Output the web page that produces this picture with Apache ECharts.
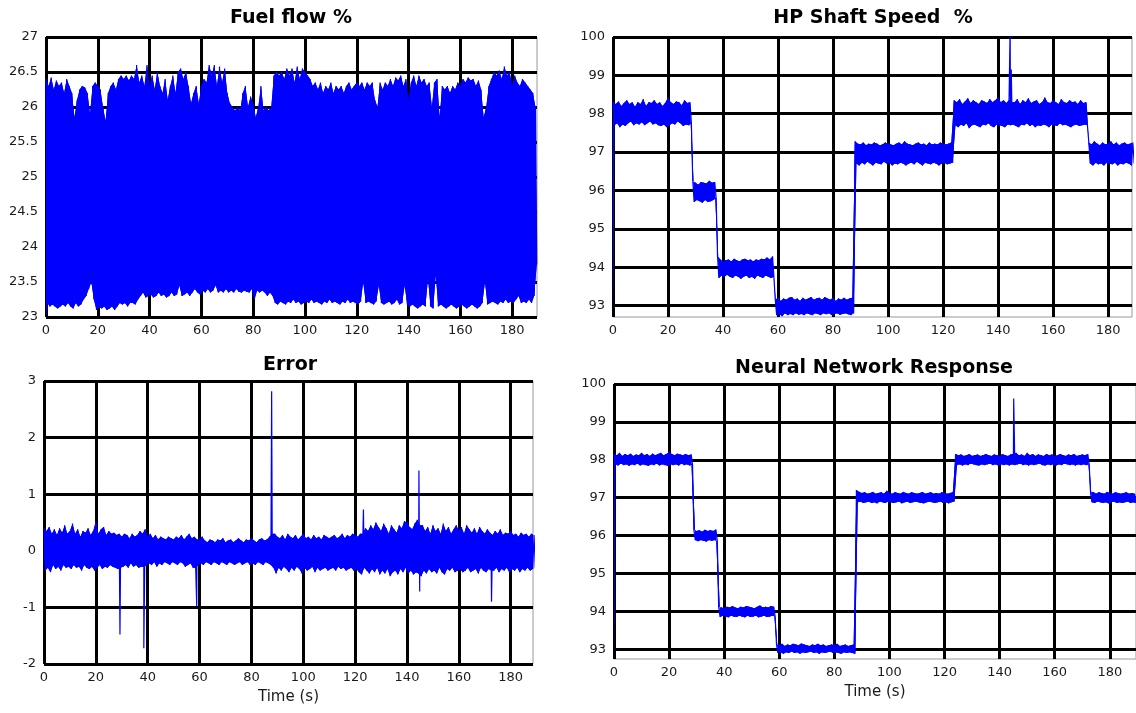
<!DOCTYPE html>
<html>
<head>
<meta charset="utf-8">
<script src="https://cdn.jsdelivr.net/npm/echarts@6/dist/echarts.min.js"></script>
<style>
html,body{margin:0;padding:0;background:#fff;}
#c{width:1136px;height:713px;}
</style>
</head>
<body>
<div id="c"></div>
<script>
// ---- Data (per-second max / min envelope of each noisy signal) ----
const titles = ['Fuel flow %', 'HP Shaft Speed  %', 'Error', 'Neural Network Response'];
const xLabelName = 'Time (s)';
const xTicks = [0, 20, 40, 60, 80, 100, 120, 140, 160, 180];
const fuelTicks = [23, 23.5, 24, 24.5, 25, 25.5, 26, 26.5, 27];
const speedTicks = [93, 94, 95, 96, 97, 98, 99, 100];
const errTicks = [-2, -1, 0, 1, 2, 3];

const fuelUpper = [
26.40,26.30,26.42,26.25,26.38,26.30,26.35,26.20,26.40,26.30,
26.20,25.85,26.10,26.25,26.30,26.28,26.20,25.90,26.30,26.35,
26.30,26.25,26.00,25.80,26.20,26.30,26.35,26.25,26.40,26.45,
26.40,26.45,26.38,26.45,26.40,26.60,26.35,26.45,26.30,26.60,
26.30,26.45,26.25,26.50,26.30,26.20,26.40,26.10,26.30,26.45,
26.20,26.50,26.55,26.40,26.50,26.30,26.05,26.20,26.30,26.05,
26.30,26.40,26.35,26.60,26.45,26.60,26.30,26.58,26.35,26.55,
26.20,26.05,26.00,25.95,26.00,25.95,26.20,26.30,26.00,26.15,
26.05,25.85,26.00,26.30,25.95,26.00,25.95,26.00,26.45,26.50,
26.45,26.50,26.40,26.55,26.45,26.55,26.35,26.58,26.40,26.55,
26.50,26.45,26.40,26.30,26.35,26.25,26.35,26.20,26.30,26.25,
26.35,26.20,26.30,26.25,26.30,26.20,26.30,26.35,26.25,26.30,
26.35,26.30,26.35,26.25,26.35,26.30,26.35,26.10,26.00,26.35,
26.25,26.35,26.30,26.40,26.30,26.42,26.38,26.45,26.30,26.40,
26.10,26.35,26.45,26.30,26.45,26.35,26.40,26.30,26.35,26.00,
26.35,26.40,25.85,26.30,26.25,26.30,26.20,26.30,26.25,26.35,
26.30,26.40,26.35,26.42,26.38,26.40,26.30,26.38,26.25,25.85,
26.00,26.30,26.40,26.50,26.45,26.52,26.40,26.58,26.45,26.50,
26.30,26.45,26.35,26.30,26.40,26.35,26.30,26.25,26.20,26.00
];
const fuelLower = [
23.20,23.15,23.18,23.15,23.12,23.15,23.18,23.15,23.20,23.15,
23.12,23.20,23.15,23.18,23.25,23.30,23.40,23.50,23.25,23.10,
23.15,23.12,23.15,23.10,23.12,23.15,23.10,23.15,23.20,23.18,
23.20,23.15,23.20,23.20,23.18,23.25,23.30,23.35,23.28,23.30,
23.32,23.28,23.30,23.35,23.30,23.32,23.28,23.30,23.35,23.30,
23.32,23.45,23.30,23.32,23.35,23.30,23.35,23.40,23.35,23.32,
23.38,23.35,23.40,23.35,23.38,23.45,23.35,23.38,23.35,23.40,
23.35,23.38,23.35,23.40,23.36,23.35,23.38,23.36,23.35,23.40,
23.25,23.38,23.35,23.38,23.35,23.30,23.35,23.30,23.20,23.18,
23.22,23.20,23.18,23.22,23.20,23.25,23.20,23.22,23.18,23.20,
23.22,23.20,23.25,23.20,23.22,23.20,23.18,23.22,23.20,23.25,
23.20,23.22,23.20,23.18,23.22,23.20,23.25,23.20,23.22,23.20,
23.18,23.22,23.50,23.20,23.22,23.20,23.18,23.22,23.45,23.20,
23.18,23.20,23.22,23.18,23.20,23.25,23.18,23.20,23.45,23.18,
23.15,23.18,23.15,23.12,23.15,23.18,23.15,23.55,23.15,23.12,
23.60,23.15,23.18,23.15,23.12,23.15,23.18,23.15,23.12,23.15,
23.18,23.15,23.12,23.15,23.18,23.15,23.12,23.15,23.20,23.50,
23.18,23.20,23.22,23.20,23.18,23.22,23.20,23.25,23.20,23.22,
23.20,23.25,23.30,23.20,23.22,23.20,23.25,23.20,23.30,23.75
];
const fuelSpikes = [];

const hpUpper = [
98.30,98.25,98.32,98.20,98.28,98.35,98.25,98.30,98.18,98.30,
98.25,98.38,98.20,98.30,98.28,98.35,98.25,98.30,98.20,98.28,
98.42,98.30,98.25,98.32,98.30,98.22,98.35,98.28,98.30,96.25,
96.20,96.15,96.22,96.20,96.18,96.25,96.20,96.22,94.30,94.20,
94.15,94.18,94.20,94.15,94.22,94.18,94.15,94.20,94.22,94.18,
94.20,94.15,94.20,94.18,94.22,94.20,94.25,94.20,94.28,93.15,
93.20,93.12,93.18,93.15,93.20,93.22,93.15,93.18,93.12,93.20,
93.15,93.18,93.22,93.15,93.18,93.20,93.15,93.22,93.18,93.15,
93.20,93.12,93.18,93.15,93.20,93.15,93.18,93.20,97.28,97.22,
97.20,97.25,97.18,97.22,97.20,97.25,97.22,97.18,97.20,97.25,
97.22,97.20,97.18,97.22,97.25,97.20,97.28,97.22,97.20,97.18,
97.22,97.25,97.20,97.22,97.18,97.25,97.20,97.22,97.20,97.25,
97.22,97.20,97.22,97.25,98.35,98.30,98.38,98.25,98.32,98.40,
98.28,98.35,98.30,98.25,98.35,98.32,98.28,98.38,98.30,98.35,
98.42,98.30,98.35,98.28,98.36,98.30,98.30,98.38,98.25,98.35,
98.30,98.40,98.28,98.32,98.35,98.25,98.30,98.42,98.30,98.28,
98.35,98.30,98.25,98.38,98.30,98.28,98.35,98.30,98.32,98.25,
98.35,98.28,98.30,97.25,97.20,97.28,97.22,97.18,97.25,97.20,
97.22,97.28,97.20,97.25,97.18,97.22,97.25,97.20,97.22,97.25
];
const hpLower = [
97.70,97.75,97.65,97.72,97.68,97.75,97.80,97.70,97.75,97.72,
97.78,97.70,97.75,97.80,97.72,97.75,97.70,97.68,97.72,97.65,
97.70,97.75,97.72,97.80,97.75,97.68,97.72,97.70,97.75,95.70,
95.75,95.72,95.68,95.75,95.70,95.72,95.75,95.80,93.72,93.78,
93.75,93.80,93.75,93.72,93.78,93.75,93.70,93.75,93.78,93.72,
93.75,93.70,93.78,93.75,93.72,93.78,93.75,93.72,93.75,92.75,
92.78,92.72,92.80,92.75,92.78,92.75,92.80,92.76,92.78,92.75,
92.80,92.77,92.75,92.80,92.78,92.75,92.80,92.77,92.80,92.75,
92.78,92.80,92.76,92.78,92.80,92.77,92.75,92.80,96.70,96.65,
96.72,96.68,96.75,96.70,96.65,96.72,96.70,96.68,96.75,96.70,
96.72,96.65,96.70,96.68,96.72,96.70,96.65,96.70,96.72,96.68,
96.75,96.70,96.65,96.72,96.70,96.68,96.72,96.70,96.65,96.70,
96.72,96.68,96.70,96.72,97.70,97.65,97.72,97.68,97.75,97.62,
97.70,97.72,97.68,97.65,97.72,97.70,97.75,97.68,97.65,97.72,
97.70,97.68,97.65,97.72,97.70,97.72,97.68,97.65,97.72,97.70,
97.75,97.68,97.72,97.65,97.70,97.68,97.72,97.70,97.65,97.72,
97.70,97.68,97.75,97.70,97.72,97.68,97.65,97.70,97.72,97.68,
97.70,97.72,97.70,96.70,96.65,96.72,96.68,96.70,96.65,96.72,
96.70,96.68,96.72,96.65,96.70,96.68,96.72,96.70,96.65,96.70
];
const hpSpikes = [[144.4, 100.3], [144.8, 99.15]];

const errUpper = [
0.40,0.35,0.42,0.30,0.38,0.28,0.40,0.32,0.45,0.30,
0.35,0.48,0.30,0.38,0.25,0.35,0.32,0.40,0.28,0.35,
0.52,0.30,0.38,0.42,0.28,0.35,0.30,0.32,0.28,0.30,
0.25,0.30,0.28,0.22,0.30,0.25,0.28,0.35,0.30,0.38,
0.25,0.30,0.22,0.28,0.20,0.25,0.22,0.20,0.25,0.22,
0.20,0.25,0.22,0.28,0.20,0.25,0.30,0.22,0.25,0.20,
0.20,0.25,0.18,0.15,0.20,0.18,0.15,0.20,0.18,0.22,
0.15,0.18,0.20,0.15,0.18,0.22,0.18,0.15,0.20,0.18,
0.22,0.18,0.15,0.20,0.22,0.18,0.20,0.25,0.30,0.30,
0.25,0.22,0.28,0.20,0.30,0.25,0.22,0.28,0.20,0.25,
0.30,0.22,0.25,0.20,0.28,0.22,0.25,0.20,0.28,0.25,
0.22,0.25,0.28,0.22,0.25,0.30,0.22,0.28,0.25,0.30,
0.28,0.25,0.30,0.30,0.40,0.35,0.45,0.38,0.50,0.42,
0.35,0.48,0.40,0.30,0.45,0.38,0.32,0.45,0.40,0.52,
0.50,0.42,0.38,0.48,0.55,0.45,0.45,0.35,0.42,0.30,
0.45,0.35,0.40,0.30,0.48,0.35,0.42,0.30,0.38,0.45,
0.35,0.42,0.30,0.45,0.38,0.32,0.40,0.30,0.42,0.35,
0.30,0.38,0.32,0.28,0.35,0.30,0.38,0.28,0.32,0.30,
0.35,0.28,0.30,0.25,0.32,0.28,0.30,0.25,0.30,0.28
];
const errLower = [
-0.35,-0.30,-0.38,-0.25,-0.32,-0.28,-0.35,-0.25,-0.30,-0.28,
-0.32,-0.25,-0.30,-0.28,-0.35,-0.25,-0.30,-0.32,-0.28,-0.35,
-0.30,-0.25,-0.32,-0.28,-0.30,-0.25,-0.28,-0.30,-0.32,-0.30,
-0.28,-0.25,-0.30,-0.22,-0.28,-0.25,-0.30,-0.28,-0.28,-0.25,
-0.22,-0.25,-0.20,-0.28,-0.22,-0.25,-0.20,-0.22,-0.25,-0.20,
-0.22,-0.25,-0.20,-0.22,-0.28,-0.25,-0.22,-0.30,-0.30,-0.25,
-0.22,-0.25,-0.20,-0.22,-0.25,-0.20,-0.22,-0.25,-0.20,-0.22,
-0.25,-0.20,-0.22,-0.25,-0.22,-0.20,-0.25,-0.22,-0.20,-0.25,
-0.22,-0.25,-0.20,-0.22,-0.25,-0.20,-0.22,-0.25,-0.30,-0.40,
-0.30,-0.35,-0.28,-0.32,-0.38,-0.30,-0.35,-0.28,-0.32,-0.40,
-0.30,-0.35,-0.32,-0.28,-0.38,-0.30,-0.35,-0.32,-0.30,-0.35,
-0.32,-0.30,-0.35,-0.28,-0.32,-0.30,-0.35,-0.32,-0.30,-0.35,
-0.32,-0.38,-0.42,-0.30,-0.35,-0.40,-0.32,-0.38,-0.30,-0.42,
-0.35,-0.40,-0.32,-0.45,-0.38,-0.35,-0.42,-0.32,-0.38,-0.30,
-0.40,-0.35,-0.42,-0.38,-0.40,-0.45,-0.35,-0.40,-0.32,-0.38,
-0.35,-0.40,-0.30,-0.38,-0.42,-0.32,-0.35,-0.30,-0.38,-0.35,
-0.32,-0.38,-0.35,-0.30,-0.38,-0.35,-0.32,-0.40,-0.30,-0.35,
-0.38,-0.32,-0.35,-0.35,-0.30,-0.38,-0.32,-0.35,-0.30,-0.38,
-0.32,-0.35,-0.30,-0.38,-0.32,-0.35,-0.30,-0.35,-0.32,-0.30
];
const errSpikes = [[29.3, -1.48], [38.5, -1.72], [58.9, -0.98], [87.8, 2.82], [123.2, 0.73], [144.6, 1.42], [144.9, -0.72], [172.6, -0.9]];

const nnUpper = [
98.15,98.12,98.18,98.10,98.15,98.12,98.16,98.10,98.14,98.12,
98.18,98.12,98.15,98.10,98.16,98.12,98.15,98.18,98.12,98.15,
98.20,98.15,98.12,98.16,98.14,98.12,98.15,98.12,98.14,96.15,
96.12,96.14,96.10,96.15,96.12,96.14,96.12,96.16,94.12,94.10,
94.08,94.12,94.10,94.14,94.10,94.08,94.12,94.10,94.14,94.12,
94.10,94.08,94.12,94.15,94.10,94.12,94.10,94.14,94.12,93.12,
93.10,93.14,93.08,93.12,93.10,93.14,93.12,93.10,93.15,93.12,
93.10,93.08,93.12,93.10,93.14,93.10,93.12,93.08,93.10,93.12,
93.10,93.14,93.08,93.10,93.12,93.08,93.10,93.12,97.20,97.15,
97.12,97.14,97.10,97.12,97.15,97.10,97.12,97.14,97.10,97.18,
97.12,97.10,97.14,97.12,97.10,97.15,97.12,97.10,97.14,97.12,
97.10,97.12,97.15,97.10,97.12,97.14,97.10,97.12,97.10,97.14,
97.12,97.10,97.12,97.14,98.15,98.12,98.14,98.10,98.12,98.15,
98.10,98.12,98.14,98.10,98.12,98.15,98.12,98.10,98.14,98.12,
98.10,98.15,98.12,98.10,98.14,98.16,98.18,98.12,98.14,98.10,
98.18,98.12,98.15,98.10,98.14,98.12,98.10,98.15,98.12,98.14,
98.10,98.12,98.15,98.12,98.10,98.14,98.12,98.15,98.10,98.12,
98.14,98.12,98.15,97.12,97.15,97.10,97.14,97.12,97.10,97.15,
97.12,97.10,97.14,97.12,97.10,97.12,97.14,97.10,97.12,97.10
];
const nnLower = [
97.88,97.85,97.90,97.86,97.88,97.84,97.88,97.86,97.90,97.85,
97.88,97.86,97.84,97.88,97.86,97.90,97.85,97.88,97.86,97.84,
97.88,97.86,97.88,97.85,97.90,97.86,97.88,97.85,97.88,95.88,
95.85,95.88,95.86,95.84,95.88,95.86,95.88,95.85,93.85,93.88,
93.86,93.84,93.88,93.86,93.85,93.88,93.86,93.84,93.88,93.85,
93.86,93.88,93.84,93.86,93.88,93.85,93.86,93.88,93.86,92.90,
92.92,92.88,92.92,92.90,92.94,92.90,92.92,92.88,92.92,92.90,
92.92,92.94,92.90,92.92,92.88,92.92,92.90,92.92,92.94,92.90,
92.92,92.90,92.88,92.92,92.90,92.92,92.90,92.88,96.88,96.90,
96.86,96.88,96.90,96.86,96.88,96.85,96.90,96.88,96.86,96.90,
96.88,96.86,96.88,96.90,96.85,96.88,96.90,96.86,96.88,96.90,
96.88,96.86,96.85,96.88,96.90,96.88,96.86,96.88,96.90,96.86,
96.88,96.85,96.88,96.90,97.86,97.88,97.85,97.88,97.86,97.90,
97.88,97.86,97.85,97.88,97.86,97.88,97.90,97.86,97.88,97.85,
97.88,97.86,97.88,97.85,97.88,97.86,97.88,97.90,97.86,97.88,
97.85,97.88,97.86,97.88,97.90,97.86,97.85,97.88,97.86,97.88,
97.85,97.88,97.86,97.90,97.88,97.86,97.88,97.85,97.88,97.86,
97.88,97.86,97.88,96.88,96.86,96.90,96.88,96.86,96.88,96.85,
96.88,96.90,96.86,96.88,96.86,96.88,96.90,96.86,96.88,96.86
];
const nnSpikes = [[145.1, 99.62], [145.3, 98.8]];

// ---- Plotted trace: each second's max (at t) then min (at t+0.5), plus isolated spikes ----
function trace(upper, lower, spikes) {
  const d = [];
  for (let i = 0; i < upper.length; i++) {
    d.push([i, upper[i]]);
    d.push([i + 0.5, lower[i]]);
  }
  spikes.forEach(s => d.push([s[0], s[1]]));
  d.sort((a, b) => a[0] - b[0]);
  return d;
}
// Closed outline of the dense band: forward along the max samples, back along the min samples
function outline(upper, lower) {
  const d = [];
  for (let i = 0; i < upper.length; i++) d.push([i, upper[i]]);
  for (let i = lower.length - 1; i >= 0; i--) d.push([i + 0.5, lower[i]]);
  d.push([0, lower[0]]); // close at the starting time so the fill adds no sliver
  return d;
}

const FONT = 'DejaVu Sans';
const BLUE = '#0000ff';
const chart = echarts.init(document.getElementById('c'), null, {renderer: 'canvas'});

const grids = [
  {left: 46, top: 37, width: 491, height: 280},
  {left: 613, top: 37, width: 519, height: 280},
  {left: 44, top: 381, width: 489, height: 283},
  {left: 614, top: 384, width: 525, height: 275}
];
const xMax = [189.6, 188.7, 188.6, 189.5];
// [min, max, interval or null (auto, 1-unit steps)]
const yRange = [[23, 27, 0.5], [92.7, 100, null], [-2, 3, 1], [92.74, 100, null]];
const yGrid = [fuelTicks, speedTicks, errTicks, speedTicks];

function xAxis(i, named) {
  return {
    type: 'value', gridIndex: i, min: 0, max: xMax[i], interval: 20,
    axisLine: {show: false}, axisTick: {show: false},
    axisLabel: {show: true, showMaxLabel: false, margin: 7, color: '#1a1a1a', fontFamily: FONT, fontSize: 13},
    splitLine: {show: false},
    name: named ? xLabelName : '', nameLocation: 'middle', nameGap: 26,
    nameTextStyle: {fontFamily: FONT, fontSize: 15, color: '#1a1a1a'}
  };
}
function yAxis(i) {
  const r = yRange[i];
  const auto = (r[2] === null);
  const ax = {
    type: 'value', gridIndex: i, min: r[0], max: r[1],
    axisLine: {show: false}, axisTick: {show: false},
    axisLabel: {showMinLabel: !auto, margin: 8, color: '#1a1a1a', fontFamily: FONT, fontSize: 13},
    splitLine: {show: false}
  };
  if (auto) { ax.splitNumber = 7; } else { ax.interval = r[2]; }
  return ax;
}

const panels = [
  {up: fuelUpper, lo: fuelLower, sp: fuelSpikes},
  {up: hpUpper, lo: hpLower, sp: hpSpikes},
  {up: errUpper, lo: errLower, sp: errSpikes},
  {up: nnUpper, lo: nnLower, sp: nnSpikes}
];

const series = [];
panels.forEach((p, i) => {
  // grid lines, drawn underneath the signal
  series.push({
    type: 'line', xAxisIndex: i, yAxisIndex: i, data: [], z: 1, silent: true,
    markLine: {
      z: 1, silent: true, symbol: ['none', 'none'], animation: false,
      label: {show: false},
      lineStyle: {color: '#000', width: 3, type: 'solid', opacity: 1},
      emphasis: {disabled: true},
      data: xTicks.map(v => ({xAxis: v})).concat(yGrid[i].map(v => ({yAxis: v})))
    }
  });
  // dense band (drawn twice so it is fully opaque over the grid lines)
  for (let r = 0; r < 2; r++) {
    series.push({
      type: 'line', xAxisIndex: i, yAxisIndex: i, data: outline(p.up, p.lo),
      showSymbol: false, symbol: 'none', silent: true, clip: true, z: 3,
      lineStyle: {width: 0},
      areaStyle: {color: BLUE, opacity: 1},
      emphasis: {disabled: true}
    });
  }
  // fine trace with spikes
  series.push({
    type: 'line', xAxisIndex: i, yAxisIndex: i, data: trace(p.up, p.lo, p.sp),
    showSymbol: false, symbol: 'none', silent: true, clip: true, z: 4,
    lineStyle: {color: BLUE, width: 1.2, join: 'bevel', cap: 'butt'},
    emphasis: {disabled: true}
  });
});

const titlePos = [[291, 18], [873, 18], [290, 365], [874, 368]];

chart.setOption({
  animation: false,
  backgroundColor: '#fff',
  grid: grids.map(g => Object.assign({show: true, borderColor: '#9a9a9a', borderWidth: 1, backgroundColor: 'transparent', containLabel: false}, g)),
  xAxis: [xAxis(0, false), xAxis(1, false), xAxis(2, true), xAxis(3, true)],
  yAxis: [yAxis(0), yAxis(1), yAxis(2), yAxis(3)],
  series: series,
  graphic: titles.map((t, i) => ({
    type: 'text', x: titlePos[i][0], y: titlePos[i][1], silent: true,
    style: {text: t, fill: '#000', font: 'bold 19px "' + FONT + '"', align: 'center', verticalAlign: 'middle', textAlign: 'center', textVerticalAlign: 'middle'}
  }))
});
</script>
</body>
</html>
